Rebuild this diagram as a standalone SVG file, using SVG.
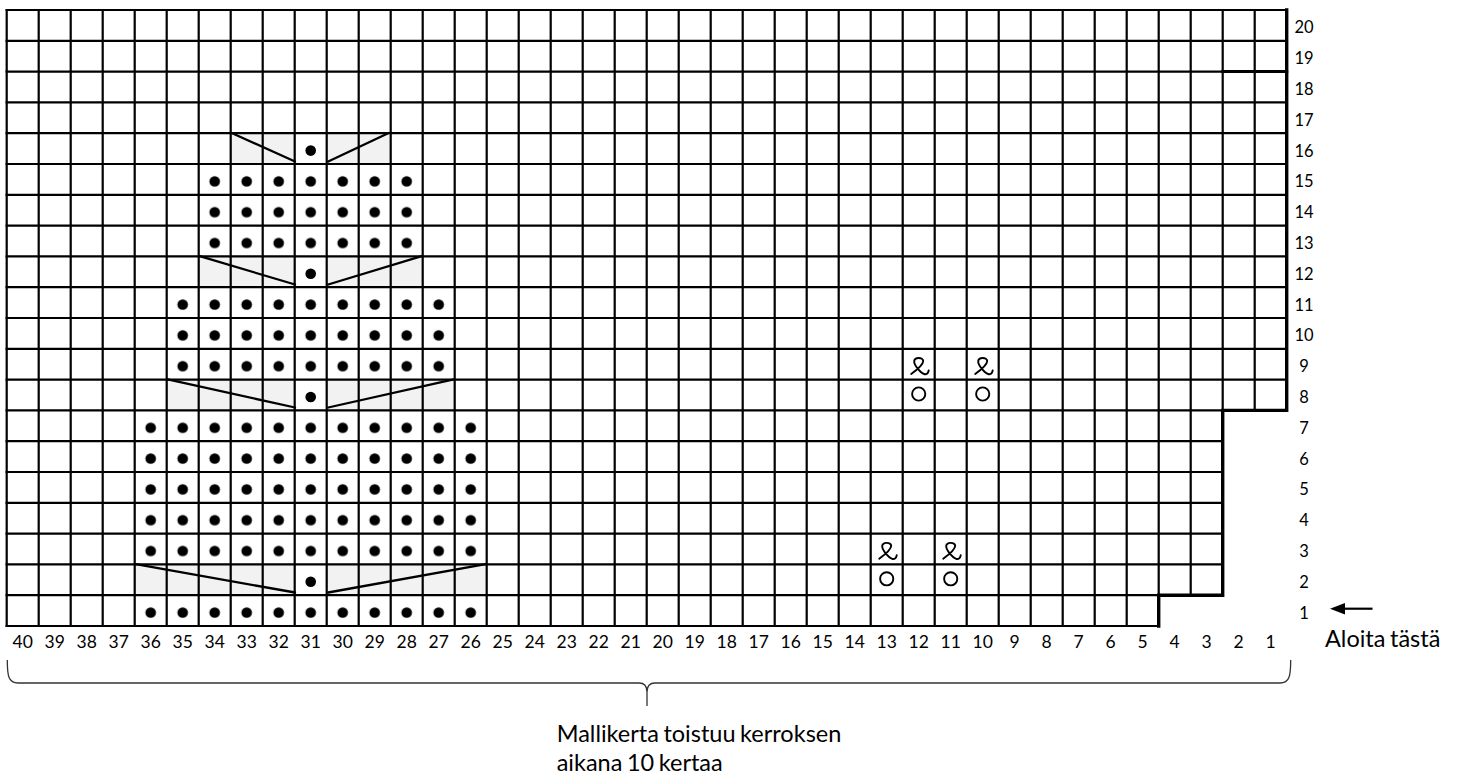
<svg xmlns="http://www.w3.org/2000/svg" xmlns:xlink="http://www.w3.org/1999/xlink" width="1460" height="778" viewBox="0 0 1460 778">
<style>
.grid{fill:none;stroke:#000;stroke-width:2.2;stroke-linecap:square}
.thick{fill:none;stroke:#000;stroke-width:3.4;stroke-linecap:square;stroke-linejoin:miter}
.shade{fill:#f2f2f2}
.dec{fill:none;stroke:#000;stroke-width:2.3;stroke-linecap:round}
.sym{fill:none;stroke:#000;stroke-width:1.9;stroke-linecap:round;stroke-linejoin:round}
.lbl{font-family:Lato,"Liberation Sans",sans-serif;font-size:16.5px;fill:#000;text-anchor:middle}
.clbl{font-family:Lato,"Liberation Sans",sans-serif;font-size:17.5px;fill:#000;text-anchor:middle}
.note{font-family:Lato,"Liberation Sans",sans-serif;font-size:23.5px;fill:#000;word-spacing:-1.5px}
.brace{fill:none;stroke:#333;stroke-width:1.3}
</style>
<defs>
<pattern id="dots" patternUnits="userSpaceOnUse" width="32" height="30.8">
<circle cx="16" cy="17.4" r="5.3" fill="#000"/>
</pattern>
<path id="loop" class="sym" d="M-8.5,7.5 C-3,3.5 3.5,-2 3.5,-5.5 C3.5,-9.5 -5.5,-9.5 -5.5,-5 C-5.5,-1 1,6.5 4.5,7.5 C6.5,8.3 8.5,7 9,4"/>
<circle id="yo" class="sym" r="6.6"/>
</defs>
<g id="chart" transform="translate(6.7 10)">
<g id="shading">
<rect class="shade" x="128" y="554.4" width="160" height="30.8"/>
<rect class="shade" x="320" y="554.4" width="160" height="30.8"/>
<rect class="shade" x="160" y="369.6" width="128" height="30.8"/>
<rect class="shade" x="320" y="369.6" width="128" height="30.8"/>
<rect class="shade" x="192" y="246.4" width="96" height="30.8"/>
<rect class="shade" x="320" y="246.4" width="96" height="30.8"/>
<rect class="shade" x="224" y="123.2" width="64" height="30.8"/>
<rect class="shade" x="320" y="123.2" width="64" height="30.8"/>
</g>
<g id="grid">
<path class="grid" d="M0,0H1280M0,30.8H1280M0,61.6H1280M0,92.4H1280M0,123.2H1280M0,154H1280M0,184.8H1280M0,215.6H1280M0,246.4H1280M0,277.2H1280M0,308H1280M0,338.8H1280M0,369.6H1280M0,400.4H1280M0,431.2H1216M0,462H1216M0,492.8H1216M0,523.6H1216M0,554.4H1216M0,585.2H1216M0,616H1152"/>
<path class="grid" d="M0,0V616M32,0V616M64,0V616M96,0V616M128,0V616M160,0V616M192,0V616M224,0V616M256,0V616M288,0V616M320,0V616M352,0V616M384,0V616M416,0V616M448,0V616M480,0V616M512,0V616M544,0V616M576,0V616M608,0V616M640,0V616M672,0V616M704,0V616M736,0V616M768,0V616M800,0V616M832,0V616M864,0V616M896,0V616M928,0V616M960,0V616M992,0V616M1024,0V616M1056,0V616M1088,0V616M1120,0V616M1152,0V616M1184,0V585.2M1216,0V400.4M1248,0V400.4"/>
<path class="thick" d="M1280,0V400.4H1216V585.2H1152V616"/>
<path class="thick" d="M1216,61.6H1280" style="stroke-width:3"/>
</g>
<g id="stitches">
<rect x="128" y="585.2" width="352" height="30.8" fill="url(#dots)"/>
<rect x="128" y="400.4" width="352" height="154" fill="url(#dots)"/>
<rect x="160" y="277.2" width="288" height="92.4" fill="url(#dots)"/>
<rect x="192" y="154" width="224" height="92.4" fill="url(#dots)"/>
<circle cx="304" cy="140.6" r="5.3"/>
<circle cx="304" cy="263.8" r="5.3"/>
<circle cx="304" cy="387" r="5.3"/>
<circle cx="304" cy="571.8" r="5.3"/>
<path class="dec" d="M129,554.2L288.3,582.5M321.5,582.5L479,554.2"/>
<path class="dec" d="M161,369.4L288.3,397.5M321.5,397.5L447,369.4"/>
<path class="dec" d="M193,246.2L288.3,274.5M321.5,274.5L415,246.2"/>
<path class="dec" d="M225,123L288.3,151.5M321.5,151.5L382,123"/>
<use href="#yo" x="912" y="384"/>
<use href="#yo" x="976" y="384"/>
<use href="#yo" x="880" y="568.8"/>
<use href="#yo" x="944" y="568.8"/>
<use href="#loop" x="913" y="356.5"/>
<use href="#loop" x="977" y="356.5"/>
<use href="#loop" x="881" y="541.3"/>
<use href="#loop" x="945" y="541.3"/>
</g>
</g>
<g id="row-labels">
<text class="lbl" x="1304" y="33.4">20</text>
<text class="lbl" x="1304" y="64.2">19</text>
<text class="lbl" x="1304" y="95">18</text>
<text class="lbl" x="1304" y="125.8">17</text>
<text class="lbl" x="1304" y="156.6">16</text>
<text class="lbl" x="1304" y="187.4">15</text>
<text class="lbl" x="1304" y="218.2">14</text>
<text class="lbl" x="1304" y="249">13</text>
<text class="lbl" x="1304" y="279.8">12</text>
<text class="lbl" x="1304" y="310.6">11</text>
<text class="lbl" x="1304" y="341.4">10</text>
<text class="lbl" x="1304" y="372.2">9</text>
<text class="lbl" x="1304" y="403">8</text>
<text class="lbl" x="1304" y="433.8">7</text>
<text class="lbl" x="1304" y="464.6">6</text>
<text class="lbl" x="1304" y="495.4">5</text>
<text class="lbl" x="1304" y="526.2">4</text>
<text class="lbl" x="1304" y="557">3</text>
<text class="lbl" x="1304" y="587.8">2</text>
<text class="lbl" x="1304" y="618.6">1</text>
</g>
<g id="col-labels">
<text class="clbl" x="22.7" y="648">40</text>
<text class="clbl" x="54.7" y="648">39</text>
<text class="clbl" x="86.7" y="648">38</text>
<text class="clbl" x="118.7" y="648">37</text>
<text class="clbl" x="150.7" y="648">36</text>
<text class="clbl" x="182.7" y="648">35</text>
<text class="clbl" x="214.7" y="648">34</text>
<text class="clbl" x="246.7" y="648">33</text>
<text class="clbl" x="278.7" y="648">32</text>
<text class="clbl" x="310.7" y="648">31</text>
<text class="clbl" x="342.7" y="648">30</text>
<text class="clbl" x="374.7" y="648">29</text>
<text class="clbl" x="406.7" y="648">28</text>
<text class="clbl" x="438.7" y="648">27</text>
<text class="clbl" x="470.7" y="648">26</text>
<text class="clbl" x="502.7" y="648">25</text>
<text class="clbl" x="534.7" y="648">24</text>
<text class="clbl" x="566.7" y="648">23</text>
<text class="clbl" x="598.7" y="648">22</text>
<text class="clbl" x="630.7" y="648">21</text>
<text class="clbl" x="662.7" y="648">20</text>
<text class="clbl" x="694.7" y="648">19</text>
<text class="clbl" x="726.7" y="648">18</text>
<text class="clbl" x="758.7" y="648">17</text>
<text class="clbl" x="790.7" y="648">16</text>
<text class="clbl" x="822.7" y="648">15</text>
<text class="clbl" x="854.7" y="648">14</text>
<text class="clbl" x="886.7" y="648">13</text>
<text class="clbl" x="918.7" y="648">12</text>
<text class="clbl" x="950.7" y="648">11</text>
<text class="clbl" x="982.7" y="648">10</text>
<text class="clbl" x="1014.7" y="648">9</text>
<text class="clbl" x="1046.7" y="648">8</text>
<text class="clbl" x="1078.7" y="648">7</text>
<text class="clbl" x="1110.7" y="648">6</text>
<text class="clbl" x="1142.7" y="648">5</text>
<text class="clbl" x="1174.7" y="648">4</text>
<text class="clbl" x="1206.7" y="648">3</text>
<text class="clbl" x="1238.7" y="648">2</text>
<text class="clbl" x="1270.7" y="648">1</text>
</g>
<g id="connectors">
<path id="brace" class="brace" d="M7.3,660C7.3,676 8.5,683 18,683H639C644,683 647,686 647,692V706M647,692C647,686 650,683 655,683H1280C1289.5,683 1290.7,676 1290.7,660"/>
<g id="start-arrow">
<line x1="1342" y1="608.7" x2="1372.5" y2="608.7" stroke="#000" stroke-width="2.2"/>
<polygon points="1330,608.7 1345,603 1345,614.4" fill="#000"/>
</g>
</g>
<g id="notes">
<text class="note" x="1325" y="647.3">Aloita tästä</text>
<text class="note" x="556.7" y="741.7">Mallikerta toistuu kerroksen</text>
<text class="note" x="556.7" y="771">aikana 10 kertaa</text>
</g>
</svg>
